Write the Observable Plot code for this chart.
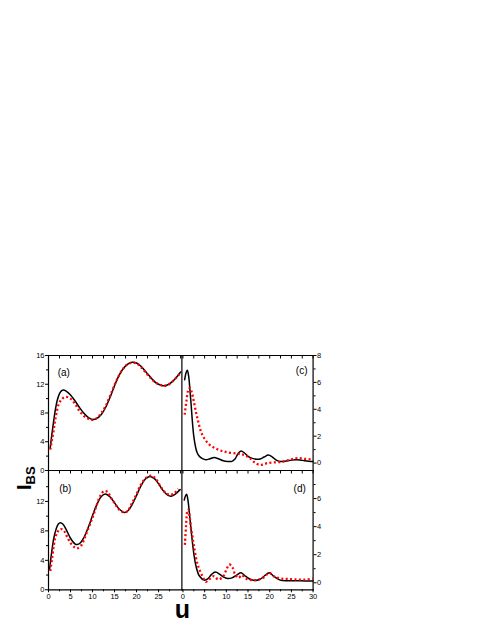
<!DOCTYPE html>
<html><head><meta charset="utf-8">
<script src="https://cdn.jsdelivr.net/npm/d3@7"></script>
<script src="https://cdn.jsdelivr.net/npm/@observablehq/plot@0.6"></script>
<style>
body{margin:0;background:#fff;}
#wrap{position:relative;width:491px;height:635px;font-family:"Liberation Sans",Arial,sans-serif;overflow:hidden;}
#wrap svg{position:absolute;}
</style></head><body><div id="wrap"></div>
<script>
// ---- panel (a) ----
const uBlackA = [0.4,0.8,1.2,1.6,2.0,2.5,3.0,3.4,4,5,6,7,8,9,10,11,12,13,14,15,16,17,18,19,20,21,22,23,24,25,26,27,28,29,30];
const iBlackA = [3.2,5.2,7.0,8.6,9.8,10.7,11.1,11.2,11.05,10.5,9.7,8.8,8.0,7.4,7.1,7.25,7.8,8.8,10.2,11.8,13.2,14.2,14.8,15.05,14.95,14.5,13.8,13.1,12.4,12.0,11.8,11.9,12.3,12.9,13.7];
const uRedA = [0.4,0.7,1.1,1.4,1.75,2.3,3.0,3.9,4.9,6,7,8,9,9.7,10.5,11.3,12,13,14,15,16,17,18,19,20,21,22,23,24,25,26,27,28,29,30];
const iRedA = [2.9,4.0,5.3,6.6,7.8,9.2,9.9,10.25,10.05,9.3,8.3,7.6,7.2,7.05,7.1,7.5,8.0,9.0,10.4,11.9,13.2,14.2,14.8,15.0,14.9,14.4,13.7,13.0,12.4,12.0,11.8,11.85,12.3,12.9,13.6];
// ---- panel (b) ----
const uBlackB = [0.25,0.7,1.2,1.7,2.2,2.7,3.3,4,5,6,6.5,7.2,8,9,10,11,12,12.9,14,15,16,17.2,18,19,20,21,22,23,24,25,26,27,27.8,28.8,29.9];
const iBlackB = [2.8,5.0,7.0,8.2,8.9,9.1,8.9,8.2,7.0,6.25,6.15,6.35,7.04,8.43,10.08,11.6,12.67,13.0,12.6,11.8,11.0,10.5,10.7,11.58,12.82,14.1,15.05,15.4,15.12,14.4,13.5,12.88,12.7,13.0,13.6];
const uRedB = [0.4,0.8,1.2,1.6,2.1,2.8,3.5,4.3,5.2,6.0,6.6,7.3,8,8.7,9.5,10.3,11,11.8,12.6,13.4,14.2,15,16,17.2,18,19,20,21,22,23.3,24.3,25.3,26.2,27,27.8,28.6,29.5];
const iRedB = [2.55,4.2,6.0,7.2,7.9,8.25,8.0,7.1,6.2,5.75,5.65,5.9,6.7,7.8,9.0,10.3,11.6,12.8,13.4,13.3,12.5,11.8,10.9,10.5,10.7,11.8,13.0,14.3,15.1,15.5,15.1,14.2,13.4,13.0,12.9,13.1,13.7];
// ---- panel (c) ----
const uBlackC = [0.4,0.7,1.0,1.3,1.6,1.9,2.2,2.5,2.9,3.3,3.8,4.5,5.3,6.2,7.2,8.3,9.3,10.3,11.3,12.0,12.7,13.4,14.2,15,16,17,17.8,18.7,19.7,20.6,21.6,22.6,23.8,25,26,27,28,29,30];
const iBlackC = [6.2,6.7,6.9,6.5,5.5,4.3,3.0,2.0,1.2,0.75,0.5,0.33,0.25,0.32,0.42,0.3,0.17,0.12,0.13,0.3,0.7,0.9,0.75,0.5,0.35,0.28,0.3,0.45,0.6,0.45,0.2,0.12,0.15,0.22,0.25,0.23,0.18,0.14,0.12];
const uRedC = [0.4,0.8,1.2,1.6,2.0,2.5,3.0,3.5,4.1,4.8,6,7.5,9,10.6,12.5,13.5,14.5,15.5,16.5,17.6,18.5,19.5,21,22.5,23.8,25,26.5,28,29.5,30];
const iRedC = [3.6,4.6,5.4,5.6,5.3,4.6,3.8,3.1,2.4,1.9,1.4,1.1,0.9,0.78,0.7,0.65,0.55,0.35,0.05,-0.13,-0.1,0.0,0.05,0.08,0.17,0.28,0.37,0.32,0.27,0.25];
// ---- panel (d) ----
const uBlackD = [0.3,0.6,0.85,1.1,1.45,2.0,2.5,3.0,3.8,4.9,5.8,6.6,7.5,8.5,9.4,10.3,11.3,12.4,13.4,14.5,15.5,16.5,17.8,18.8,19.9,21,22.6,25,27,30];
const iBlackD = [5.9,6.2,6.3,6.0,5.1,3.4,2.1,1.2,0.48,0.19,0.3,0.6,0.76,0.6,0.4,0.31,0.35,0.55,0.71,0.45,0.25,0.17,0.25,0.5,0.71,0.45,0.17,0.15,0.15,0.12];
const uRedD = [0.45,0.7,0.9,1.1,1.3,1.6,1.85,2.2,2.5,3.0,3.4,3.8,4.5,5.3,6.3,7.2,8.1,9.2,9.9,10.7,11.4,12.1,12.8,13.6,14.5,15.5,17,18.5,19.9,21,22.5,24,25.7,28,29.9];
const iRedD = [2.7,4.0,4.9,5.2,5.1,4.6,3.9,3.3,2.7,1.8,1.3,0.95,0.48,0.07,0.3,0.48,0.24,0.42,0.85,1.3,1.1,0.55,0.35,0.55,0.3,0.2,0.2,0.35,0.7,0.45,0.3,0.28,0.24,0.22,0.3];

// ---- tick labels ----
const leftTicks = [0,4,8,12,16];
const leftMinor = [2,6,10,14];
const rightTicks = [0,2,4,6,8];
const rightMinor = [1,3,5,7];
const xTicksLeft = [0,5,10,15,20,25];
const xTicksRight = [0,5,10,15,20,25,30];
const xMinor = [2.5,7.5,12.5,17.5,22.5,27.5];
const xTopTicks = [0,2.5,5,7.5,10,12.5,15,17.5,20,22.5,25,27.5,30];

const zip = (us, is) => us.map((u, k) => ({u, v: is[k]}));
const wrap = document.getElementById("wrap");
const M = {l: 30, r: 30, t: 10, b: 25};

function panel(o) {
  const marks = [
    Plot.line(zip(o.ub, o.ib), {x: "u", y: "v", stroke: "black", strokeWidth: 1.5, curve: "catmull-rom"}),
    Plot.line(zip(o.ur, o.ir), {x: "u", y: "v", stroke: "#ff0000", strokeWidth: 2.3, strokeDasharray: "2,2.4", strokeLinecap: "butt", curve: "catmull-rom"}),
    Plot.axisY(o.yTicks, {anchor: o.yAnchor, tickSize: 3, tickPadding: 1, fontSize: 7.5, label: null}),
    Plot.axisY(o.yMinor, {anchor: o.yAnchor, tickSize: 2, tickFormat: () => "", label: null}),
    Plot.axisX(xTopTicks, {anchor: "top", tickSize: -2.5, tickFormat: () => "", label: null}),
    ...o.sides.map(s => Plot.frame({anchor: s, stroke: "black", strokeWidth: 1.2})),
    Plot.text([o.label], {frameAnchor: o.la, dx: o.dx, dy: o.dy, lineAnchor: "middle", textAnchor: o.ta, fontSize: 10, fill: "black"})
  ];
  if (o.xTicks) {
    marks.push(Plot.axisX(o.xTicks, {anchor: "bottom", tickSize: 3, tickPadding: 1, fontSize: 7.5, label: null}));
    marks.push(Plot.axisX(xMinor, {anchor: "bottom", tickSize: 2, tickFormat: () => "", label: null}));
  }
  const svg = Plot.plot({
    width: o.w + M.l + M.r,
    height: o.h + M.t + M.b,
    marginLeft: M.l, marginRight: M.r, marginTop: M.t, marginBottom: M.b,
    style: {background: "transparent", fontFamily: "'Liberation Sans', Arial, sans-serif", color: "black", overflow: "visible"},
    x: {domain: o.xd, label: null},
    y: {domain: o.yd, label: null},
    marks
  });
  svg.style.left = (o.left - M.l) + "px";
  svg.style.top = (o.top - M.t) + "px";
  wrap.appendChild(svg);
}

const LX0 = 48.3, MX = 181.7, RX1 = 312.3, TY = 354.7, MY = 469.7, BY = 589;

panel({left: LX0, top: TY, w: MX - LX0, h: MY - TY, xd: [0, 30.3], yd: [0, 16],
  ub: uBlackA, ib: iBlackA, ur: uRedA, ir: iRedA, yTicks: leftTicks, yMinor: leftMinor, yAnchor: "left",
  sides: ["top", "left", "right", "bottom"],
  label: "(a)", la: "top-left", dx: 9.2, dy: 17, ta: "start"});
panel({left: MX, top: TY, w: RX1 - MX, h: MY - TY, xd: [-0.1, 30], yd: [-0.55, 8],
  ub: uBlackC, ib: iBlackC, ur: uRedC, ir: iRedC, yTicks: rightTicks, yMinor: rightMinor, yAnchor: "right",
  sides: ["top", "right", "bottom"],
  label: "(c)", la: "top-right", dx: -5.6, dy: 15.3, ta: "end"});
panel({left: LX0, top: MY, w: MX - LX0, h: BY - MY, xd: [0, 30.3], yd: [0, 16.2],
  ub: uBlackB, ib: iBlackB, ur: uRedB, ir: iRedB, yTicks: leftTicks.slice(0, 4), yMinor: leftMinor, yAnchor: "left",
  sides: ["left", "right", "bottom"],
  xTicks: xTicksLeft, label: "(b)", la: "top-left", dx: 10.7, dy: 18, ta: "start"});
panel({left: MX, top: MY, w: RX1 - MX, h: BY - MY, xd: [-0.1, 30], yd: [-0.5, 8],
  ub: uBlackD, ib: iBlackD, ur: uRedD, ir: iRedD, yTicks: rightTicks.slice(0, 4), yMinor: rightMinor, yAnchor: "right",
  sides: ["right", "bottom"],
  xTicks: xTicksRight, label: "(d)", la: "top-right", dx: -7.3, dy: 18.3, ta: "end"});

// axis titles
const ns = "http://www.w3.org/2000/svg";
const over = document.createElementNS(ns, "svg");
over.setAttribute("width", 491); over.setAttribute("height", 635);
over.style.left = "0px"; over.style.top = "0px";
over.innerHTML = `
<text x="182.5" y="618" text-anchor="middle" font-family="Liberation Sans, Arial, sans-serif" font-weight="bold" font-size="25">u</text>
<text x="31" y="490" transform="rotate(-90,31,490)" font-family="Liberation Sans, Arial, sans-serif" font-weight="bold"><tspan font-size="20">I</tspan><tspan font-size="13" dy="4">BS</tspan></text>`;
wrap.appendChild(over);
</script></body></html>
